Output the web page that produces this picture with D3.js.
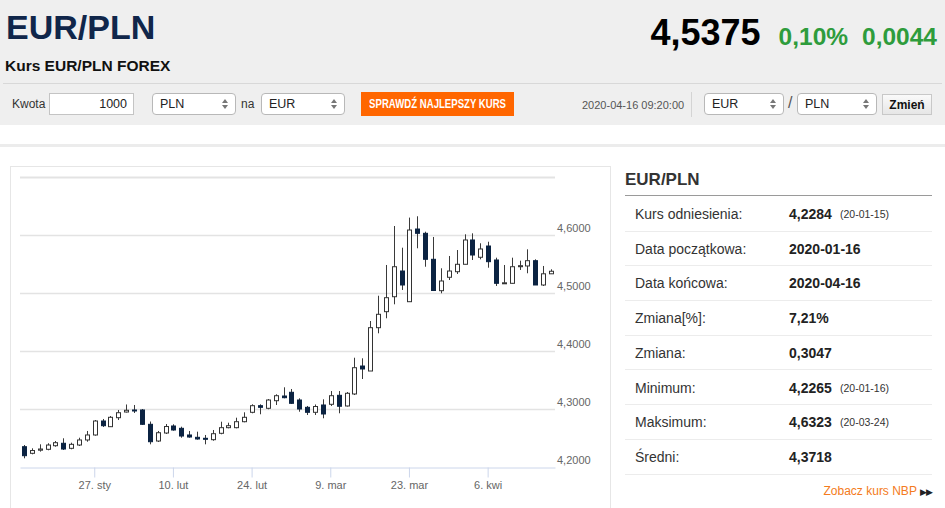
<!DOCTYPE html>
<html>
<head>
    <meta charset="utf-8">
    <title>EUR/PLN</title>
    <script src="https://cdn.jsdelivr.net/npm/d3@7"></script>
    <style>
        body { margin: 0; width: 945px; height: 508px; overflow: hidden; background: #fff;
               font-family: "Liberation Sans", Arial, sans-serif; color: #333; position: relative; }
        .abs { position: absolute; }
        #top { left: 0; top: 0; width: 945px; height: 125px; background: #efefef; }
        #title { left: 6px; top: 5px; font-size: 34px; font-weight: bold; color: #10264a; line-height: 44px; }
        #sub { left: 5px; top: 57px; font-size: 15.5px; font-weight: bold; color: #111; }
        #quote { right: 8px; top: 12px; white-space: nowrap; font-weight: bold; }
        #quote .px { font-size: 36px; color: #000; }
        #quote .ch { font-size: 24.5px; color: #2e9c3c; }
        #sep { left: 3px; top: 83px; width: 939px; height: 1px; background: #d8d8d8; }
        .lbl { font-size: 12px; color: #333; top: 97px; }
        .box { top: 93px; height: 20px; background: #fff; border: 1px solid #b8b8b8; border-radius: 4px;
               font-size: 12.5px; line-height: 20px; color: #222; box-sizing: content-box; }
        .box .t { position: absolute; left: 7px; top: 0; }
        .box .arr { position: absolute; right: 7px; top: 5px; width: 6px; height: 10px; }
        #btn { left: 361px; top: 92px; width: 153px; height: 24px; background: #ff6600; color: #fff;
               font-weight: bold; font-size: 12px; line-height: 24px; text-align: center;
               white-space: nowrap; overflow: hidden; }
        #btn span { display: inline-block; transform: scaleX(0.8); transform-origin: center; margin: 0 -20px; }
        #stamp { left: 582px; top: 99px; font-size: 11px; color: #555; }
        #vdiv { left: 691px; top: 92px; width: 1px; height: 25px; background: #d4d4d4; }
        #zmien { left: 882px; top: 94px; width: 50px; height: 21px; background: linear-gradient(#fafafa, #e6e6e6);
                 border: 1px solid #c8c8c8; box-sizing: border-box; font-size: 12px; font-weight: bold;
                 line-height: 20px; text-align: center; color: #111; }
        #band { left: 0; top: 144px; width: 945px; height: 3px; background: #ececec; }
        #chartbox { left: 10px; top: 166px; width: 599px; height: 360px; border: 1px solid #e6e6e6; }
        #chart { left: 10px; top: 166px; }
        #ptitle { left: 625px; top: 170px; font-size: 17px; font-weight: bold; color: #333; }
        #pline { left: 625px; top: 195px; width: 307px; height: 1px; background: #9a9a9a; }
        .row { left: 625px; width: 307px; height: 34.7px; border-bottom: 1px solid #ececec; box-sizing: border-box; }
        .row .k { position: absolute; left: 10px; font-size: 14px; color: #333; }
        .row .v { position: absolute; left: 164px; font-size: 14px; font-weight: bold; color: #222; }
        .row .n { position: absolute; left: 215px; top: 1px; font-size: 10.5px; color: #333; }
        #nbp { right: 13px; top: 484px; font-size: 12px; color: #f47b20; }
        #nbp span { color: #222; font-size: 9px; letter-spacing: -1px; }
    </style>
</head>
<body>
    <div id="top" class="abs"></div>
    <div id="title" class="abs">EUR/PLN</div>
    <div id="sub" class="abs">Kurs EUR/PLN FOREX</div>
    <div id="quote" class="abs"><span class="px">4,5375</span><span class="ch" style="margin-left:18px">0,10%</span><span class="ch" style="margin-left:14px">0,0044</span></div>
    <div id="sep" class="abs"></div>
    <div class="abs lbl" style="left:12px">Kwota</div>
    <div class="abs box" style="left:49px;width:83px;border-radius:0;border-color:#c4c4c4"><span class="t" style="left:auto;right:6px">1000</span></div>
    <div class="abs box sel" style="left:152px;width:82px"><span class="t">PLN</span></div>
    <div class="abs lbl" style="left:241px">na</div>
    <div class="abs box sel" style="left:261px;width:82px"><span class="t">EUR</span></div>
    <div id="btn" class="abs"><span>SPRAWDŹ NAJLEPSZY KURS</span></div>
    <div id="stamp" class="abs">2020-04-16 09:20:00</div>
    <div id="vdiv" class="abs"></div>
    <div class="abs box sel" style="left:704px;width:78px"><span class="t">EUR</span></div>
    <div class="abs lbl" style="left:788px;top:94px;font-size:16px;color:#555">/</div>
    <div class="abs box sel" style="left:797px;width:78px"><span class="t">PLN</span></div>
    <div id="zmien" class="abs">Zmień</div>
    <div id="band" class="abs"></div>
    <div id="chartbox" class="abs"></div>
    <svg id="chart" class="abs"></svg>
    <div id="ptitle" class="abs">EUR/PLN</div>
    <div id="pline" class="abs"></div>
    <div id="rows"></div>
    <div id="nbp" class="abs">Zobacz kurs NBP <span>&#9654;&#9654;</span></div>

    <script type="text/javascript">
        // trading days shown on the chart
        var dates = [
            "2020-01-14","2020-01-15","2020-01-16","2020-01-17","2020-01-20","2020-01-21","2020-01-22",
            "2020-01-23","2020-01-24","2020-01-27","2020-01-28","2020-01-29","2020-01-30","2020-01-31",
            "2020-02-03","2020-02-04","2020-02-05","2020-02-06","2020-02-07","2020-02-10","2020-02-11",
            "2020-02-12","2020-02-13","2020-02-14","2020-02-17","2020-02-18","2020-02-19","2020-02-20",
            "2020-02-21","2020-02-24","2020-02-25","2020-02-26","2020-02-27","2020-02-28","2020-03-02",
            "2020-03-03","2020-03-04","2020-03-05","2020-03-06","2020-03-09","2020-03-10","2020-03-11",
            "2020-03-12","2020-03-13","2020-03-16","2020-03-17","2020-03-18","2020-03-19","2020-03-20",
            "2020-03-23","2020-03-24","2020-03-25","2020-03-26","2020-03-27","2020-03-30","2020-03-31",
            "2020-04-01","2020-04-02","2020-04-03","2020-04-06","2020-04-07","2020-04-08","2020-04-09",
            "2020-04-10","2020-04-13","2020-04-14","2020-04-15","2020-04-16"
        ];

        var open = [
            4.2350,4.2236,4.2290,4.2305,4.2367,4.2409,4.2322,4.2379,4.2466,4.2552,4.2793,4.2695,4.2850,4.2948,
            4.2983,4.2983,4.2736,4.2448,4.2586,4.2707,4.2667,4.2552,4.2512,4.2495,4.2471,4.2581,4.2678,4.2678,
            4.2781,4.2943,4.3057,4.3012,4.3143,4.3224,4.3288,4.3155,4.3029,4.2943,4.3069,4.3081,4.3236,4.3052,
            4.3259,4.3741,4.3655,4.4402,4.4678,4.4936,4.5379,4.4850,4.6103,4.6029,4.5581,4.5040,4.5271,4.5367,
            4.5495,4.5914,4.5616,4.5810,4.5569,4.5167,4.5167,4.5453,4.5466,4.5557,4.5138,4.5331
        ];
        var high = [
            4.2379,4.2322,4.2391,4.2409,4.2448,4.2495,4.2419,4.2505,4.2621,4.2810,4.2828,4.2879,4.2983,4.3078,
            4.3069,4.3000,4.2784,4.2621,4.2741,4.2736,4.2695,4.2621,4.2609,4.2552,4.2638,4.2781,4.2764,4.2850,
            4.2943,4.3081,4.3081,4.3172,4.3253,4.3374,4.3345,4.3184,4.3052,4.3078,4.3167,4.3310,4.3310,4.3293,
            4.3884,4.3874,4.4517,4.4953,4.5483,4.6155,4.5781,4.6300,4.6323,4.6057,4.5966,4.5426,4.5638,4.5741,
            4.6012,4.6029,4.5857,4.5884,4.5609,4.5483,4.5609,4.5557,4.5753,4.5581,4.5466,4.5409
        ];
        var low = [
            4.2150,4.2219,4.2265,4.2288,4.2350,4.2293,4.2305,4.2362,4.2436,4.2540,4.2690,4.2690,4.2810,4.2940,
            4.2931,4.2724,4.2391,4.2431,4.2569,4.2626,4.2505,4.2505,4.2471,4.2391,4.2453,4.2564,4.2667,4.2667,
            4.2771,4.2926,4.2909,4.2995,4.3069,4.3184,4.3086,4.2953,4.2897,4.2897,4.2840,4.3052,4.2926,4.3043,
            4.3241,4.3517,4.3655,4.4305,4.4564,4.4805,4.5052,4.4850,4.5771,4.5453,4.5034,4.4995,4.5224,4.5328,
            4.5495,4.5569,4.5581,4.5436,4.5121,4.5164,4.5164,4.5397,4.5340,4.5138,4.5121,4.5331
        ];
        var close = [
            4.2195,4.2284,4.2310,4.2379,4.2419,4.2310,4.2391,4.2466,4.2552,4.2793,4.2712,4.2857,4.2936,4.2978,
            4.2974,4.2736,4.2436,4.2591,4.2698,4.2638,4.2534,4.2517,4.2483,4.2488,4.2574,4.2678,4.2712,4.2781,
            4.2857,4.3057,4.3029,4.3155,4.3229,4.3195,4.3098,4.3000,4.2943,4.3043,4.2914,4.3229,4.3047,4.3271,
            4.3712,4.3690,4.4402,4.4633,4.4919,4.5453,4.5138,4.6086,4.6029,4.5581,4.5043,4.5207,4.5379,4.5495,
            4.5914,4.5655,4.5759,4.5540,4.5167,4.5176,4.5453,4.5471,4.5557,4.5138,4.5331,4.5375
        ];

        var xTickDates = ["2020-01-27","2020-02-10","2020-02-24","2020-03-09","2020-03-23","2020-04-06"];
        var xTickLabels = ["27. sty","10. lut","24. lut","9. mar","23. mar","6. kwi"];
        var yTicks = [4.2, 4.3, 4.4, 4.5, 4.6, 4.7];

        var statLabels = ["Kurs odniesienia:","Data początkowa:","Data końcowa:","Zmiana[%]:","Zmiana:","Minimum:","Maksimum:","Średni:"];
        var statValues = ["4,2284","2020-01-16","2020-04-16","7,21%","0,3047","4,2265","4,6323","4,3718"];
        var statNotes = ["(20-01-15)","","","","","(20-01-16)","(20-03-24)",""];

        // chart
        var width = 600;
        var height = 342;
        var plotLeft = 10, plotRight = 545, plotTop = 11, plotBottom = 301;

        var svg = d3.select("#chart")
            .attr('width', width)
            .attr('height', height);

        var xScale = d3.scaleBand()
            .domain(dates)
            .range([plotLeft, plotRight]);

        var yScale = d3.scaleLinear()
            .domain([4.2, 4.7])
            .range([plotBottom, plotTop]);

        var fmt = function(v) { return d3.format(".4f")(v).replace(".", ","); };

        // grid
        svg.append("g").selectAll("line")
            .data(yTicks.slice(1))
            .enter().append("line")
                .attr('x1', plotLeft)
                .attr('x2', plotRight)
                .attr('y1', function(d) { return Math.round(yScale(d)) + 0.5; })
                .attr('y2', function(d) { return Math.round(yScale(d)) + 0.5; })
                .style('stroke', '#e3e3e3')
                .style('stroke-width', function(d) { return d === 4.7 ? 2 : 1.3; });

        var yAxis = d3.axisRight(yScale)
            .tickValues(yTicks.slice(0, 5))
            .tickSize(0)
            .tickPadding(0)
            .tickFormat(fmt);

        var yg = svg.append("g")
            .attr('transform', 'translate(' + (plotRight + 2) + ',-7)')
            .call(yAxis);
        yg.select(".domain").remove();
        yg.selectAll("text")
            .style('font-family', '"Liberation Sans", Arial, sans-serif')
            .style('font-size', '11px')
            .style('fill', '#666');

        var xAxis = d3.axisBottom(xScale)
            .tickValues(xTickDates)
            .tickSize(10)
            .tickPadding(4)
            .tickSizeOuter(0)
            .tickFormat(function(d) { return xTickLabels[xTickDates.indexOf(d)]; });

        var xg = svg.append("g")
            .attr('transform', 'translate(0,' + (plotBottom + 0.5) + ')')
            .call(xAxis);
        xg.select(".domain").style('stroke', '#ccd6eb');
        xg.selectAll(".tick line").style('stroke', '#ccd6eb');
        xg.selectAll("text")
            .style('font-family', '"Liberation Sans", Arial, sans-serif')
            .style('font-size', '11px')
            .style('fill', '#666');

        // candles
        var idx = d3.range(dates.length);
        var bw = 4;
        var cx = function(i) { return Math.round(xScale(dates[i]) + xScale.bandwidth() / 2); };

        var candles = svg.append("g").selectAll("g")
            .data(idx)
            .enter().append("g");

        candles.append("line")
            .attr('x1', function(i) { return cx(i) + 0.5; })
            .attr('x2', function(i) { return cx(i) + 0.5; })
            .attr('y1', function(i) { return yScale(high[i]); })
            .attr('y2', function(i) { return yScale(low[i]); })
            .style('stroke', '#3a3a3a')
            .style('stroke-width', 1);

        candles.append("rect")
            .attr('x', function(i) { return cx(i) - bw / 2 + 0.5; })
            .attr('y', function(i) { return yScale(Math.max(open[i], close[i])); })
            .attr('width', bw)
            .attr('height', function(i) {
                return Math.max(1, Math.abs(yScale(open[i]) - yScale(close[i])));
            })
            .style('fill', function(i) { return close[i] >= open[i] ? '#ffffff' : '#0b2342'; })
            .style('stroke', function(i) { return close[i] >= open[i] ? '#333333' : '#0b2342'; })
            .style('stroke-width', 1);

        // select arrows
        d3.selectAll(".sel").append("svg")
            .attr('class', 'arr')
            .attr('viewBox', '0 0 6 10')
            .selectAll("path")
            .data(["M0,4 L3,0 L6,4 Z", "M0,6 L3,10 L6,6 Z"])
            .enter().append("path")
                .attr('d', function(d) { return d; })
                .style('fill', '#777');

        // stats table
        var rows = d3.select("#rows").selectAll("div")
            .data(statLabels)
            .enter().append("div")
                .attr('class', 'abs row')
                .style('top', function(d, i) { return (197 + i * 34.7) + 'px'; });

        rows.append("span").attr('class', 'k')
            .style('top', '9px')
            .text(function(d) { return d; });
        rows.append("span").attr('class', 'v')
            .style('top', '9px')
            .text(function(d, i) { return statValues[i]; });
        rows.append("span").attr('class', 'n')
            .style('top', '11px')
            .text(function(d, i) { return statNotes[i]; });
    </script>
</body>
</html>
